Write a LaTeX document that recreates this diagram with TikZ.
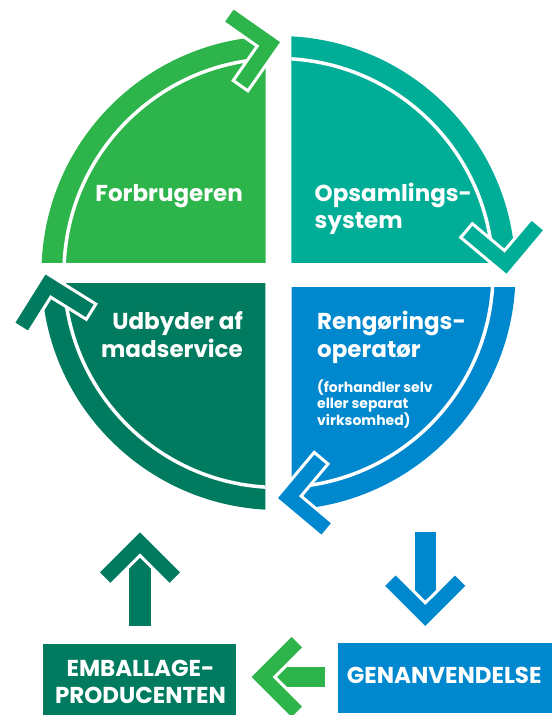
\documentclass[tikz,border=0pt]{standalone}
\usepackage{fontspec}
\setmainfont{Poppins}
\definecolor{cgreen}{RGB}{45,180,75}
\definecolor{cteal}{RGB}{0,174,151}
\definecolor{cdark}{RGB}{0,123,95}
\definecolor{cblue}{RGB}{0,136,207}
\newcommand\chevronat[4]{%
  \fill[#4, chev, shift={(#1,#2)}, rotate=#3]
    (0,0) -- (-42.4,42.4) -- (-55.1,29.7) -- (-25.5,0) -- (-55.1,-29.7) -- (-42.4,-42.4) -- cycle;}
\begin{document}
\begin{tikzpicture}[x=1pt,y=1pt,
  big/.style={text=white, font=\bfseries\fontsize{23}{27}\selectfont, inner sep=0pt},
  small/.style={text=white, font=\bfseries\fontsize{14}{16}\selectfont, inner sep=0pt},
  chev/.style={draw=white, line width=3pt, line join=miter},
  ring/.style={draw=white, line width=3.5pt},
  box/.style={inner sep=0pt, anchor=north west},
  ]
\useasboundingbox (0,0) rectangle (552,-715);
\coordinate (C) at (278.5,-273);

% quadrant sectors
\begin{scope}
  \clip (0,0) rectangle (265.7,-262.3);
  \fill[cgreen] (C) circle (237);
  \draw[ring] (C) circle (214.5);
\end{scope}
\begin{scope}
  \clip (291.3,0) rectangle (552,-262);
  \fill[cteal] (C) circle (237);
  \draw[ring] (C) circle (214.5);
\end{scope}
\begin{scope}
  \clip (0,-283) rectangle (265.3,-560);
  \fill[cdark] (C) circle (237);
  \draw[ring] (C) circle (214.5);
\end{scope}
\begin{scope}
  \clip (291.7,-287) rectangle (552,-560);
  \fill[cblue] (C) circle (237);
  \draw[ring] (C) circle (214.5);
\end{scope}

% arrowheads on the ring
\chevronat{282.3}{-41.7}{10}{cgreen}
\chevronat{506.7}{-276}{-85}{cteal}
\chevronat{275.7}{-498.3}{185}{cblue}
\chevronat{45}{-272.3}{103}{cdark}

% labels in the circle
\node[big, anchor=base east] (forb) at (243,-201.3) {Forbrugeren};
\node[big, anchor=base west] (opsa1) at (314.5,-201.3) {Opsamlings-};
\node[big, anchor=base west] (opsa2) at (314.5,-228) {system};
\node[big, anchor=base east] (udb1) at (243,-329.3) {Udbyder af};
\node[big, anchor=base east] (udb2) at (243,-357.3) {madservice};
\node[big, anchor=base west] (reng1) at (317,-329.3) {Rengørings-};
\node[big, anchor=base west] (reng2) at (317,-357.3) {operatør};
\node[small, anchor=base west] (sm1) at (317,-392.3) {(forhandler selv};
\node[small, anchor=base west] (sm2) at (317,-408.6) {eller separat};
\node[small, anchor=base west] (sm3) at (317,-425) {virksomhed)};

% boxes
\node[box, fill=cdark, minimum width=193.3pt, minimum height=71.5pt] (emb) at (42.7,-643.5) {};
\node[box, fill=cblue, minimum width=214.7pt, minimum height=70pt] (gen) at (337.3,-642.7) {};
\node[big, anchor=base] (emb1) at (140.5,-676.3) {EMBALLAGE-};
\node[big, anchor=base] (emb2) at (140.5,-703) {PRODUCENTEN};
\node[big, anchor=base] (gen1) at (444.2,-683.3) {GENANVENDELSE};

% straight arrows
\fill[cdark] (129.3,-626) rectangle (150.7,-550);
\chevronat{140}{-530}{90}{cdark}
\fill[cblue] (415,-531.7) rectangle (435.7,-610);
\chevronat{425.3}{-628.3}{-90}{cblue}
\fill[cgreen] (325,-666.7) rectangle (265,-687.3);
\chevronat{249.3}{-677}{180}{cgreen}
\end{tikzpicture}
\end{document}
